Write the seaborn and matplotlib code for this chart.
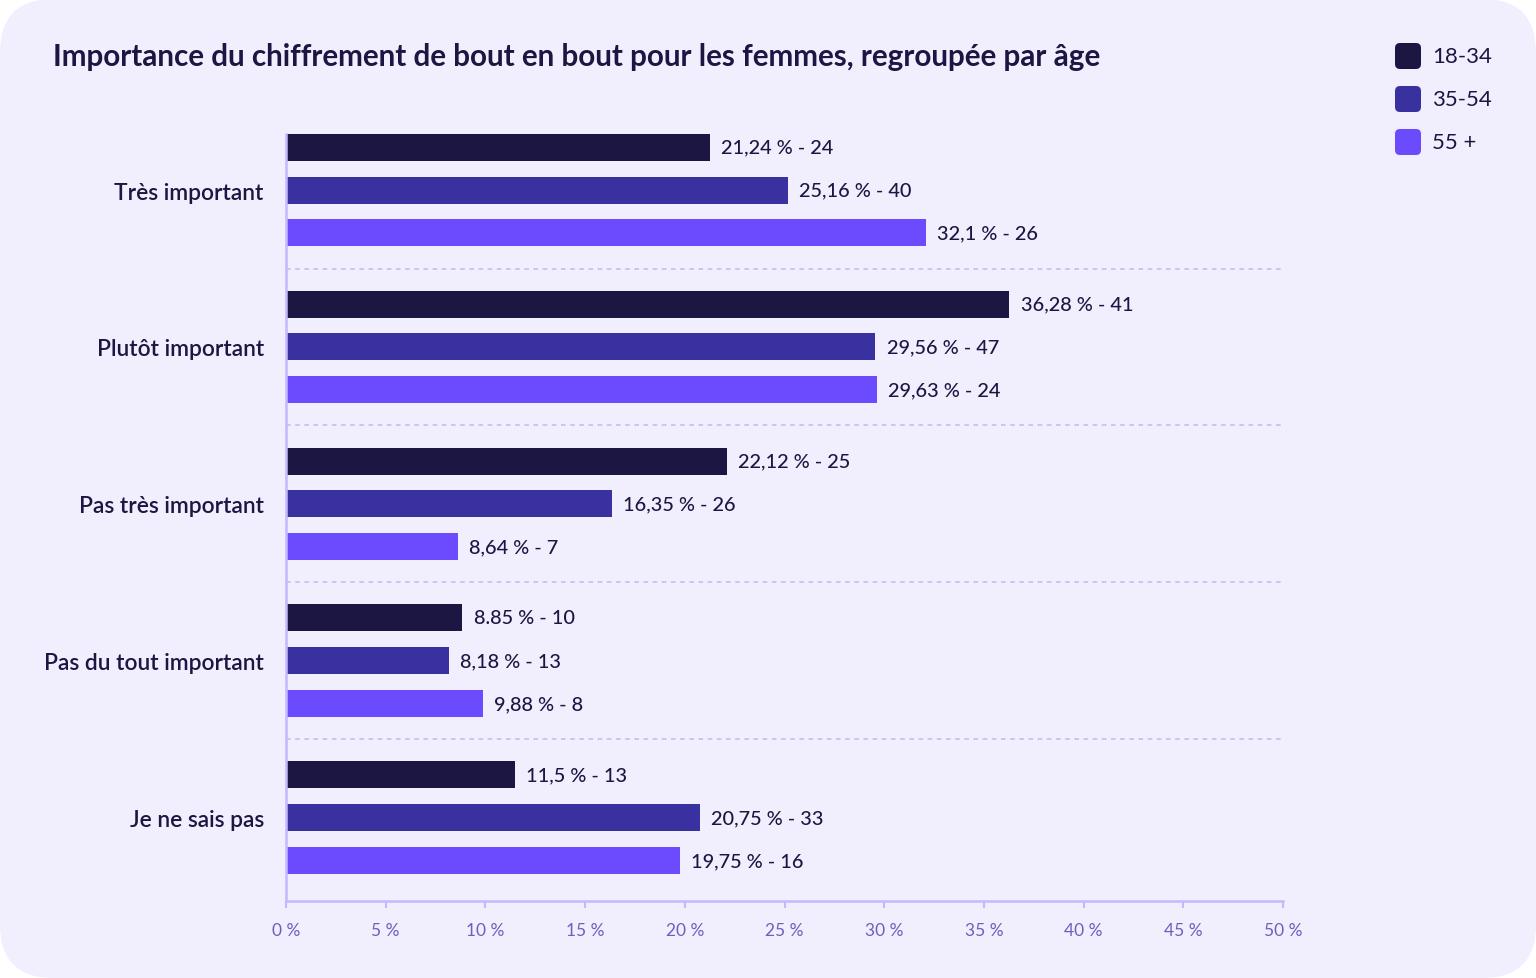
import matplotlib
matplotlib.use("Agg")
import matplotlib.pyplot as plt
import seaborn as sns
import pandas as pd
from matplotlib.patches import FancyBboxPatch
from matplotlib.ticker import FuncFormatter

categories = ["Très important", "Plutôt important", "Pas très important",
              "Pas du tout important", "Je ne sais pas"]
groups = ["18-34", "35-54", "55 +"]
colors = ["#1C1642", "#3A31A0", "#6C4BFF"]

values_18_34 = [21.24, 36.28, 22.12, 8.85, 11.5]
values_35_54 = [25.16, 29.56, 16.35, 8.18, 20.75]
values_55 = [32.1, 29.63, 8.64, 9.88, 19.75]

pct_text_18_34 = ["21,24", "36,28", "22,12", "8.85", "11,5"]
pct_text_35_54 = ["25,16", "29,56", "16,35", "8,18", "20,75"]
pct_text_55 = ["32,1", "29,63", "8,64", "9,88", "19,75"]

counts_18_34 = [24, 41, 25, 10, 13]
counts_35_54 = [40, 47, 26, 13, 33]
counts_55 = [26, 24, 7, 8, 16]

xticks = [0, 5, 10, 15, 20, 25, 30, 35, 40, 45, 50]
title = "Importance du chiffrement de bout en bout pour les femmes, regroupée par âge"

sns.set_theme(style="white")
plt.rcParams["font.family"] = ["Lato", "DejaVu Sans"]

BG = "#F1EEFD"
DARK = "#1C1642"
W, H = 1536, 979

rows = []
for g, vals in zip(groups, [values_18_34, values_35_54, values_55]):
    for c, v in zip(categories, vals):
        rows.append({"category": c, "group": g, "value": v})
df = pd.DataFrame(rows)

fig = plt.figure(figsize=(W / 100, H / 100), dpi=100)
fig.patch.set_facecolor("white")
bg = FancyBboxPatch((0, 0), 1, 1, boxstyle="round,pad=0,rounding_size=0.035",
                    transform=fig.transFigure, facecolor=BG, edgecolor="none",
                    mutation_aspect=W / H, zorder=-10)
fig.patches.append(bg)

ax = fig.add_axes([286 / W, (H - 902) / H, (1283 - 286) / W, (902 - 135) / H])
ax.set_facecolor("none")

sns.barplot(data=df, y="category", x="value", hue="group", order=categories,
            hue_order=groups, palette=colors, orient="h", width=0.82, gap=0.37,
            saturation=1, ax=ax, legend=False, edgecolor="none")

texts = [pct_text_18_34, pct_text_35_54, pct_text_55]
counts = [counts_18_34, counts_35_54, counts_55]
for cont, t, n in zip(ax.containers, texts, counts):
    labels = [f"{a} % - {b}" for a, b in zip(t, n)]
    anns = ax.bar_label(cont, labels=labels, padding=8, fontsize=14.3, color=DARK,
                        fontweight="medium")
    for a in anns:
        a.set_y(a.get_position()[1])

ax.set_xlim(0, 50)
ax.set_ylim(4.53, -0.357)
ax.set_xticks(xticks)
ax.xaxis.set_major_formatter(FuncFormatter(lambda v, p: f"{int(v)} %"))
ax.tick_params(axis="x", colors="#C4B8FF", labelcolor="#6E5FBF", labelsize=12.5,
               length=5, width=1.5, direction="out", bottom=True, pad=10)
ax.tick_params(axis="y", left=False, length=0, labelsize=16.4, labelcolor=DARK, pad=16)
for lbl in ax.get_yticklabels():
    lbl.set_fontweight("semibold")
ax.set_xlabel("")
ax.set_ylabel("")

for side in ["top", "right"]:
    ax.spines[side].set_visible(False)
for side in ["left", "bottom"]:
    ax.spines[side].set_color("#C4B8FF")
    ax.spines[side].set_linewidth(1.8)

for i in range(len(categories) - 1):
    ax.axhline(i + 0.5, color="#C2B6F5", linestyle=(0, (3, 3)), linewidth=1.1, zorder=0)

fig.text(53 / W, 1 - 57 / H, title, fontsize=21.3, fontweight="bold", color=DARK,
         va="center", ha="left")

# legend with rounded squares
sq = 26
for k, (g, c) in enumerate(zip(groups, colors)):
    cy = 57 + 43 * k
    x0, y0 = 1395, cy - sq / 2
    fig.patches.append(FancyBboxPatch((x0 / W, 1 - (y0 + sq) / H), sq / W, sq / H,
                                      boxstyle="round,pad=0,rounding_size=%f" % (5 / W),
                                      transform=fig.transFigure, facecolor=c,
                                      edgecolor="none", mutation_aspect=W / H))
    fig.text(1432 / W, 1 - cy / H, g, fontsize=16, color=DARK, va="center", ha="left")

fig.savefig("out.png", dpi=100, facecolor=fig.get_facecolor())
